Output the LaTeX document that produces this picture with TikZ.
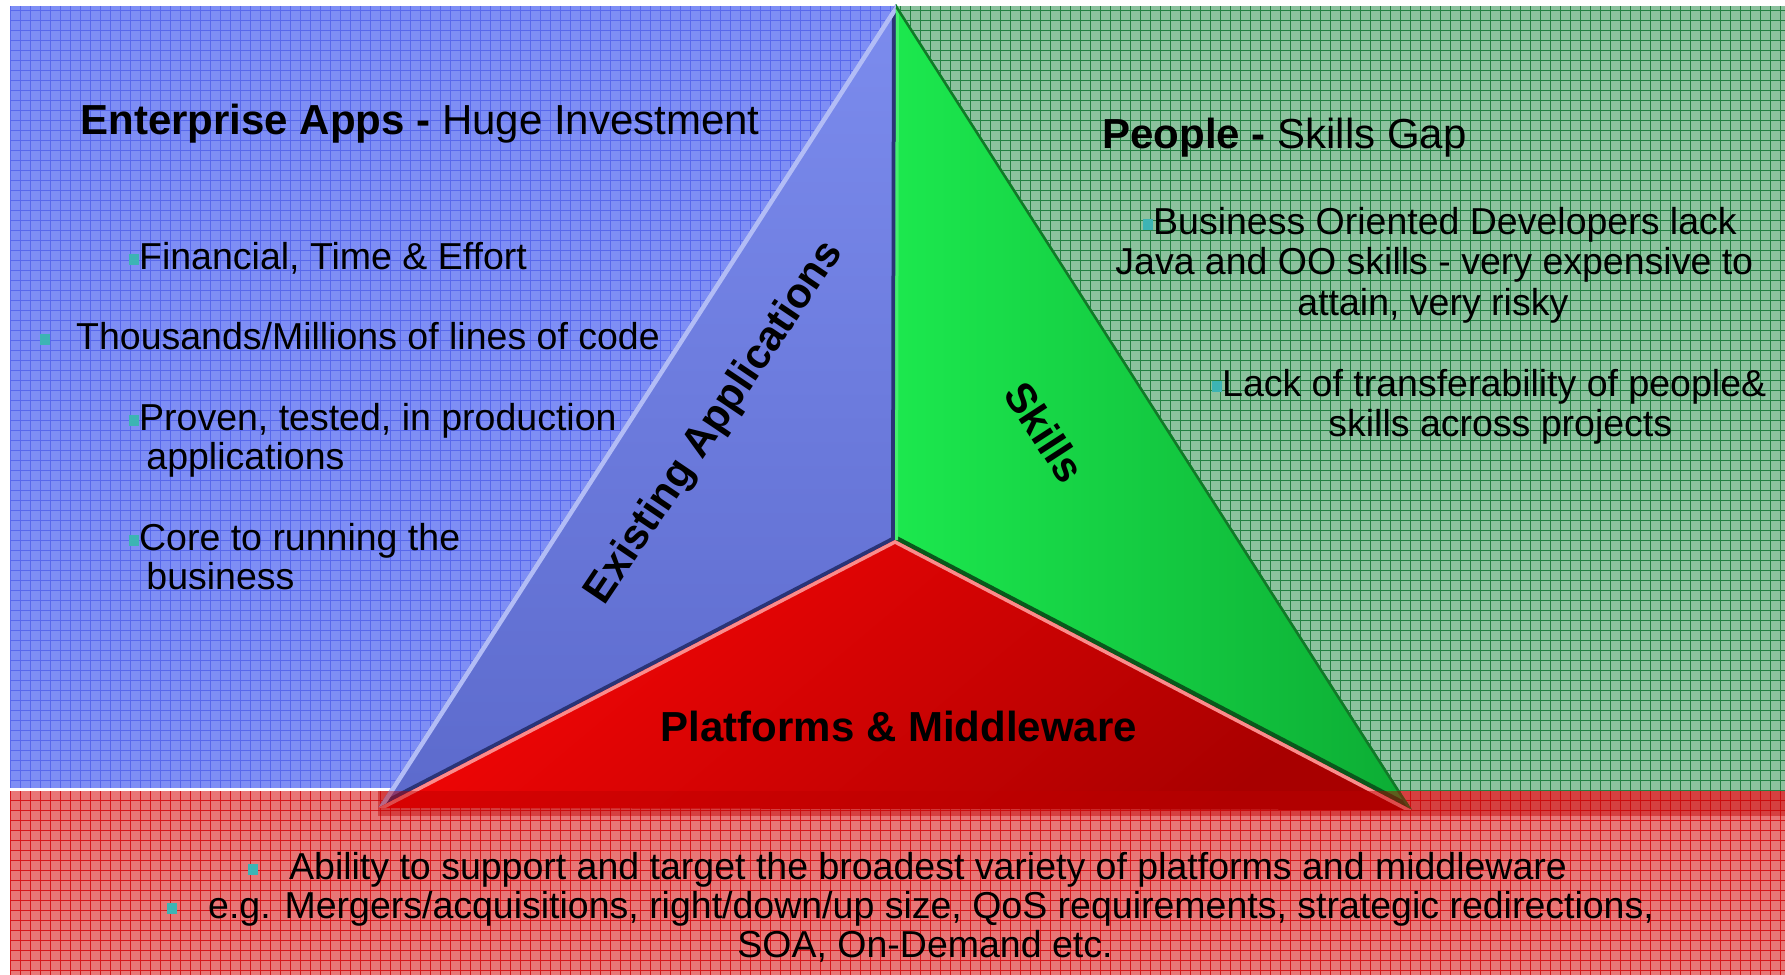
\documentclass[tikz,border=0pt]{standalone}
\usepackage{fontspec}
\setmainfont{Liberation Sans}
\definecolor{bluebg}{RGB}{126,142,245}
\definecolor{bluegrid}{RGB}{88,104,236}
\definecolor{greenbg}{RGB}{140,194,158}
\definecolor{greengrid}{RGB}{35,128,66}
\definecolor{redbg}{RGB}{232,118,118}
\definecolor{redgrid}{RGB}{214,22,26}
\definecolor{stripc}{RGB}{190,0,0}
\definecolor{bluetop}{RGB}{124,140,238}
\definecolor{bluebot}{RGB}{92,106,204}
\definecolor{navyc}{RGB}{42,52,118}
\definecolor{lavc}{RGB}{178,188,246}
\definecolor{greenl}{RGB}{28,232,78}
\definecolor{greenr}{RGB}{12,172,52}
\definecolor{dkgreen}{RGB}{10,88,28}
\definecolor{ltgreen}{RGB}{70,238,110}
\definecolor{edgegreen}{RGB}{18,120,40}
\definecolor{redtop}{RGB}{248,6,6}
\definecolor{redbot}{RGB}{168,0,0}
\definecolor{pinkc}{RGB}{250,140,140}
\definecolor{bulc}{RGB}{60,180,180}
\newcommand\bul{\textcolor{bulc}{\rule[0.12em]{0.26em}{0.29em}}}
\begin{document}
\begin{tikzpicture}[x=0.5pt,y=-0.5pt,
  body/.style={font=\fontsize{18.75}{20}\selectfont, inner sep=0pt, anchor=base west},
  ttl/.style={font=\fontsize{21}{24}\selectfont, inner sep=0pt, anchor=base west},
  big/.style={font=\fontsize{21}{24}\selectfont\bfseries, inner sep=0pt},
  gridline/.style={line width=0.45pt}]
\useasboundingbox (0,0) rectangle (1785,975);
\fill[white] (0,0) rectangle (1785,975);
% background panels
\fill[bluebg] (10,6) rectangle (897,788);
\draw[bluegrid, gridline, step=5pt] (10,6) grid (897,788);
\fill[greenbg] (897,6) rectangle (1785,791);
\draw[greengrid, gridline, step=5pt] (897,6) grid (1785,791);
\fill[redbg] (10,791) rectangle (1785,975);
\draw[redgrid, gridline, step=5pt] (10,791) grid (1785,975);
% triangle corners
\coordinate (A) at (896,4);
\coordinate (C) at (895,540);
\coordinate (L) at (378,808);
\coordinate (R) at (1412,810);
% blue piece
\shade[top color=bluetop, bottom color=bluebot] (A) -- (C) -- (L) -- cycle;
\begin{scope}
  \clip (A) -- (C) -- (L) -- cycle;
  \draw[navyc, line width=4pt, line join=round] (A) -- (C) -- (L);
  \draw[lavc, line width=4.5pt] (A) -- (L);
\end{scope}
% green piece
\shade[left color=greenl, right color=greenr] (A) -- (R) -- (C) -- cycle;
\begin{scope}
  \clip (A) -- (R) -- (C) -- cycle;
  \draw[dkgreen, line width=4.5pt] (C) -- (R);
  \draw[ltgreen, line width=3pt] (A) -- (C);
  \draw[edgegreen, line width=2.5pt] (A) -- (R);
\end{scope}
% red piece
\shade[top color=redtop, bottom color=redbot, shading angle=40] (C) -- (L) -- (R) -- cycle;
\begin{scope}
  \clip (C) -- (L) -- (R) -- cycle;
  \draw[pinkc, line width=3.5pt, line join=round] (L) -- (C) -- (R);
\end{scope}
% shadow band under the base
\fill[stripc, opacity=0.45] (378,791) rectangle (1785,816);
% piece labels
\node[big, rotate=56] (ea) at (715,423) {Existing Applications};
\node[big, rotate=-57] (sk) at (1045,432) {Skills};
\node[big] (pm) at (899,726) {Platforms \& Middleware};
% left panel
\node[ttl] (t1) at (80,134) {\textbf{Enterprise Apps -} Huge Investment};
\node[body] (l1) at (129,269) {\bul Financial, Time \& Effort};
\node[body] (l2) at (40,349) {\bul\hspace{13pt}Thousands/Millions of lines of code};
\node[body] (l3) at (129,430) {\bul Proven, tested, in production};
\node[body] (l3b) at (146,469) {applications};
\node[body] (l4) at (129,550) {\bul Core to running the};
\node[body] (l4b) at (146,589) {business};
% right panel
\node[ttl] (t2) at (1102,148) {\textbf{People -} Skills Gap};
\node[body] (r1) at (1143,234) {\bul Business Oriented Developers lack};
\node[body] (r1b) at (1115,274) {Java and OO skills - very expensive to};
\node[body] (r1c) at (1297,315) {attain, very risky};
\node[body] (r2) at (1212,396) {\bul Lack of transferability of people\&};
\node[body] (r2b) at (1328,436) {skills across projects};
% bottom panel
\node[body] (b1) at (248,879) {\bul\hspace{15.5pt}Ability to support and target the broadest variety of platforms and middleware};
\node[body] (b2) at (167,918) {\bul\hspace{15.5pt}e.g. Mergers/acquisitions, right/down/up size, QoS requirements, strategic redirections,};
\node[body] (b3) at (737,957) {SOA, On-Demand etc.};
\end{tikzpicture}
\end{document}
